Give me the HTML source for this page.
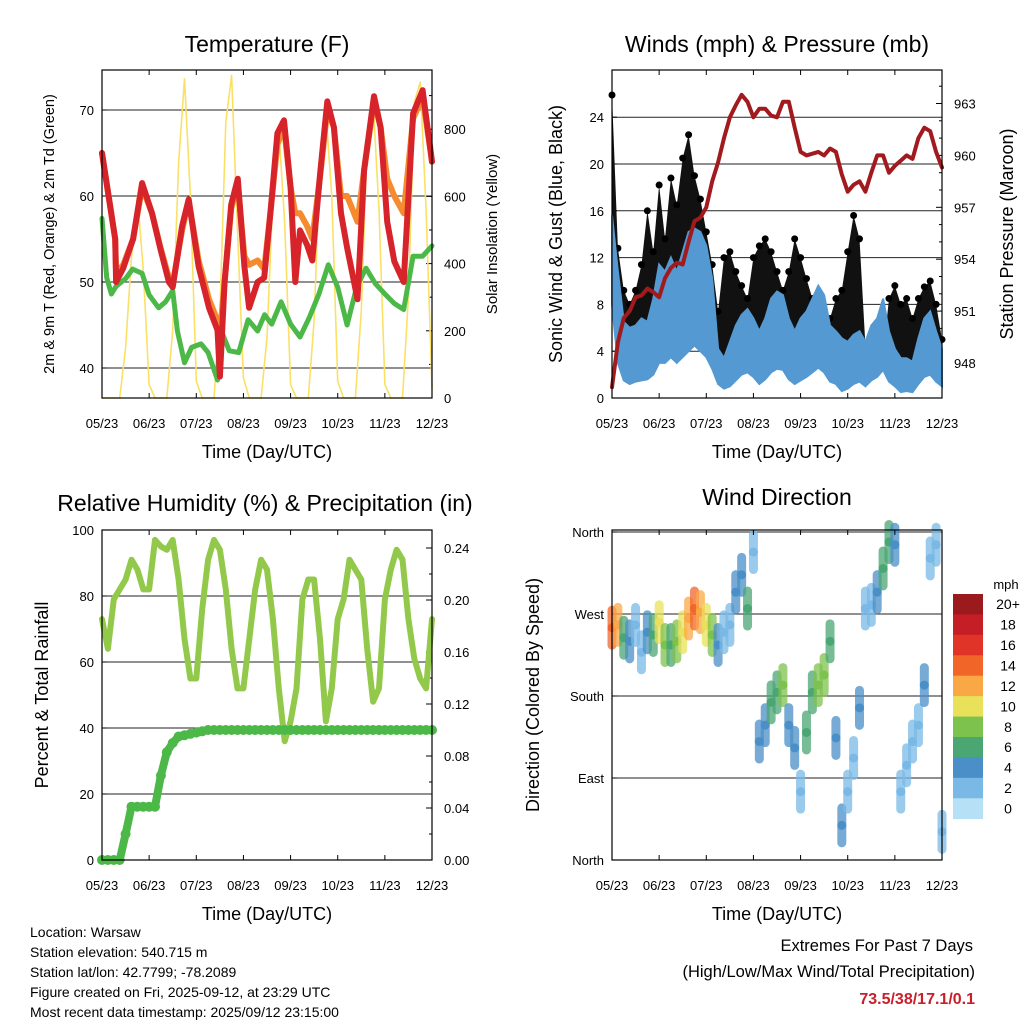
<!DOCTYPE html>
<html><head><meta charset="utf-8"><style>
html,body{margin:0;padding:0;background:#fff;}
svg{display:block;font-family:"Liberation Sans",sans-serif;}
</style></head><body>
<svg id="c" width="1024" height="1024" viewBox="0 0 1024 1024"></svg>
<script>
// ---- data ----
const tickLabels = ["05/23","06/23","07/23","08/23","09/23","10/23","11/23","12/23"];
const tempTimes = [0,0.28,0.3,0.45,0.66,0.85,1.06,1.24,1.42,1.5,1.7,1.84,2.05,2.27,2.45,2.5,2.6,2.74,2.88,3.02,3.12,3.3,3.44,3.58,3.72,3.86,4.0,4.1,4.2,4.35,4.46,4.63,4.78,4.92,5.07,5.2,5.42,5.56,5.77,5.91,6.05,6.2,6.4,6.6,6.8,7.0];
const temp2m = [65,55,50,51.6,55,61.5,58,53.8,50,49.4,56.5,59.6,51.8,47,44.4,39,50,59,62,51.8,47,50,50.5,58.5,67.3,68.8,61,50,56,54.3,52.5,62.8,71,68,58,54,48,63,71.6,68,57,52.4,50,69.6,72.3,64];
const temp9m = [65,55,51,52,55,61,58,54,50.5,49.8,56,59.5,52.5,48,45.5,44,50,58.5,61.5,53,52,52.5,51.5,58.5,66,68,61,58,58,56.5,55,62.5,70,68,60,60,57,63,71,68,62,60,58,69,71.5,64];
const dewTimes = [0,0.1,0.2,0.3,0.5,0.65,0.85,1.0,1.2,1.35,1.5,1.6,1.75,1.9,2.1,2.25,2.45,2.5,2.7,2.9,3.1,3.3,3.45,3.6,3.8,4.0,4.2,4.4,4.6,4.8,5.0,5.2,5.4,5.6,5.8,6.0,6.2,6.4,6.6,6.8,7.0];
const dewpt = [57.4,50.5,48.6,49.5,50.4,51.5,51,48.5,47,47.7,49,44.3,40.6,42.4,42.8,41.8,38.6,44.7,42,41.8,45.6,44.3,46.2,45.1,47.7,45.1,43.6,45.9,48.6,52,49.4,45,49.4,51.6,49.8,48.6,47.5,46.8,53,53,54.2];
const solar = [0,0,0,0,150,420,600,380,40,0,0,0,200,700,950,600,50,0,0,0,250,820,960,500,60,0,0,0,180,600,800,520,40,0,0,0,230,700,850,600,50,0,0,0,260,760,880,560,40,0,0,0,300,880,940,560,30];
const windHigh = [15.6,10.8,6.5,6,6.2,6.8,6.5,8.5,11.4,10.8,12,10.8,12.5,14.2,14.5,14.2,13,10.2,4.2,3.4,4.8,6.2,7.1,7.6,6.8,5.7,6.8,8.5,9.1,8.8,6.8,5.7,6.8,7.4,8.5,9.6,8.8,6.2,5.7,5.1,4.8,5.4,5.7,4.8,6.2,6.8,8.5,5.7,4.2,3.4,3.4,3.1,5.1,6.8,7.4,5.7,4.2];
const windLow = [8,3,1.5,1.2,1.4,1.5,1.6,2,3,3,3.5,3,3.5,4,4.5,4,3.5,2.5,1.2,0.8,1,1.5,2,2.2,1.8,1.2,1.6,2.2,2.5,2.4,1.6,1.2,1.5,1.8,2.2,2.6,2.2,1.4,1.2,0.6,0.8,1.2,1.4,1,1.5,1.8,2.4,1.4,1,0.5,0.6,0.5,1.2,1.8,2,1.4,1];
const gust = [25.9,12.8,9.2,8,9.2,11.4,16,12.5,18.2,13.6,18.8,16.5,20.5,22.5,19,17,14.2,11.4,7.4,12,12.5,10.8,9.6,8.5,12,13,13.6,12.5,10.8,9.2,10.8,13.6,12,10.2,8.5,6.8,6.2,6.8,8.5,9.2,12.5,15.6,13.6,4.5,3.7,4,3.7,8.5,9.6,8,8.5,6.8,8.5,9.5,10,8,5];
const pressure = [946.6,949.2,950.6,951,951.8,951.9,952.3,952.1,951.8,952.9,953.5,953.8,953.7,955,956.2,956.4,957,958.5,959.6,961,962.2,962.9,963.5,963.1,962.2,962.7,962.7,962.3,962.2,963.1,963.1,961.6,960.2,960,960.1,960.2,960,960.4,960.2,958.9,957.9,958.3,958.5,957.9,959,960,960,959,959.4,959.7,960,959.8,961,961.6,961.4,960.2,959.3];
const rh = [73,64,79,82,85,91,88,82,82,97,95,94,97,85,67,55,55,76,91,97,94,82,64,52,52,67,82,91,88,73,52,36,42,52,79,85,85,67,42,52,73,79,91,88,85,64,48,52,79,88,94,91,73,61,55,52,73];
const rain = [0,0,0,0,0.02,0.041,0.041,0.041,0.041,0.041,0.065,0.083,0.09,0.095,0.096,0.097,0.098,0.099,0.1,0.1,0.1,0.1,0.1,0.1,0.1,0.1,0.1,0.1,0.1,0.1,0.1,0.1,0.1,0.1,0.1,0.1,0.1,0.1,0.1,0.1,0.1,0.1,0.1,0.1,0.1,0.1,0.1,0.1,0.1,0.1,0.1,0.1,0.1,0.1,0.1,0.1,0.1];
const windDir = [255,258,244,240,258,228,250,247,261,236,236,240,250,265,276,272,258,247,236,250,258,294,313,276,338,130,148,173,184,192,148,123,75,140,184,192,203,240,134,38,75,112,167,276,280,294,320,349,346,75,104,130,148,192,331,346,31];
const windSpd = [15,12,6,4,3,3,4,7,10,8,7,8,10,13,14,12,10,9,5,3,3,4,4,6,3,4,5,7,7,8,5,5,3,6,6,8,8,7,4,4,2,3,4,2,2,5,6,7,4,2,2,2,3,4,2,3,3];
const binLabels = ["20+","18","16","14","12","10","8","6","4","2","0"];
const binColors = ["#9b1a1e","#c61e26","#e03428","#f26529","#f9a845","#e8e159","#7dc24c","#4aa673","#4a8fc7","#7ab9e5","#b5e0f5"];

const svg = document.getElementById('c');
const NS = 'http://www.w3.org/2000/svg';
function mk(tag, attrs, parent){const e=document.createElementNS(NS,tag);for(const k in attrs)e.setAttribute(k,attrs[k]);(parent||svg).appendChild(e);return e;}
function txt(s, attrs, parent){const e=mk('text',attrs,parent);e.textContent=s;return e;}
const N = solar.length;
function tOf(i){return i*7/(N-1);}

function panel(name,x0,x1,y0,y1){
  const g=mk('g',{});
  
  
  return {g,x0,x1,y0,y1,xs:t=>x0+(x1-x0)*t/7};
}
function frame(p){
  const r=mk('rect',{x:p.x0,y:p.y0,width:p.x1-p.x0,height:p.y1-p.y0,fill:'none',stroke:'#000','stroke-width':1.2},p.g);
  
  
  for(let i=0;i<tickLabels.length;i++){
    const x=p.xs(i);
    mk('line',{x1:x,x2:x,y1:p.y1,y2:p.y1-5,stroke:'#000'},p.g);
    mk('line',{x1:x,x2:x,y1:p.y0,y2:p.y0+5,stroke:'#000'},p.g);
    const t=txt(tickLabels[i],{x:x,y:p.y1+30,'text-anchor':'middle','font-size':13},p.g);
    
    
  }
  const xt=txt('Time (Day/UTC)',{x:(p.x0+p.x1)/2,y:p.y1+60,'text-anchor':'middle','font-size':18},p.g);
  
  
}
function leftAxis(p,vals,labels,ys,grid){
  vals.forEach((v,i)=>{
    const y=ys(v);
    if(grid) mk('line',{x1:p.x0,x2:p.x1,y1:y,y2:y,stroke:'#222','stroke-width':1},p.g);
    mk('line',{x1:p.x0,x2:p.x0+5,y1:y,y2:y,stroke:'#000'},p.g);
    const t=txt(labels[i],{x:p.x0-8,y:y+5,'text-anchor':'end','font-size':13},p.g);
    
    
  });
}
function rightAxis(p,vals,labels,ys,minor){
  vals.forEach((v,i)=>{
    const y=ys(v);
    mk('line',{x1:p.x1,x2:p.x1-6,y1:y,y2:y,stroke:'#000'},p.g);
    const t=txt(labels[i],{x:p.x1+12,y:y+5,'text-anchor':'start','font-size':13},p.g);
    
    
  });
  (minor||[]).forEach(v=>{const y=ys(v);mk('line',{x1:p.x1,x2:p.x1-3,y1:y,y2:y,stroke:'#000'},p.g);});
}
function title(s,x,y,name){const t=txt(s,{x:x,y:y,'text-anchor':'middle','font-size':23});}
function vtitle(s,x,y,fs,name){const t=txt(s,{x:0,y:0,'text-anchor':'middle','font-size':fs,transform:`translate(${x},${y}) rotate(-90)`});}
function polyline(p,arr,ys,color,w,name,times){
  const pts=arr.map((v,i)=>p.xs(times?times[i]:tOf(i)).toFixed(1)+','+ys(v).toFixed(1)).join(' ');
  const e=mk('polyline',{points:pts,fill:'none',stroke:color,'stroke-width':w,'stroke-linejoin':'round','stroke-linecap':'round'},p.g);
  
  
  return e;
}

// ---- Temperature panel ----
const P1=panel('temperature-chart',102,432,70,398);
const tY=v=>110+(70-v)*8.6;
const sY=v=>398-v*0.336;
leftAxis(P1,[40,50,60,70],["40","50","60","70"],tY,true);
rightAxis(P1,[0,200,400,600,800],["0","200","400","600","800"],sY,[100,300,500,700,900]);
polyline(P1,solar,sY,'#fbe066',1.6,'solar-line');
polyline(P1,dewpt,tY,'#4cb848',5,'dewpoint-line',dewTimes);
polyline(P1,temp9m,tY,'#f58a2e',6,'temp-9m-line',tempTimes);
polyline(P1,temp2m,tY,'#d7232a',6,'temp-2m-line',tempTimes);
frame(P1);
title('Temperature (F)',267,52,'temperature-title');
vtitle('2m & 9m T (Red, Orange) & 2m Td (Green)',54,234,14.5,'temperature-y-title');
vtitle('Solar Insolation (Yellow)',497,234,15,'solar-y-title');

// ---- Winds panel ----
const P2=panel('winds-chart',612,942,70,398);
const wY=v=>398-v*11.7;
const pY=v=>363-(v-948)*17.3;
leftAxis(P2,[0,4,8,12,16,20,24],["0","4","8","12","16","20","24"],wY,true);
rightAxis(P2,[948,951,954,957,960,963],["948","951","954","957","960","963"],pY,[949,950,952,953,955,956,958,959,961,962,964]);
{
  const up=gust.map((v,i)=>P2.xs(tOf(i)).toFixed(1)+','+wY(v).toFixed(1));
  const dn=windHigh.map((v,i)=>P2.xs(tOf(i)).toFixed(1)+','+wY(v).toFixed(1)).reverse();
  const e=mk('polygon',{points:up.concat(dn).join(' '),fill:'#111'},P2.g);
  
  
  gust.forEach((v,i)=>{const c=mk('circle',{cx:P2.xs(tOf(i)),cy:wY(v),r:3.5,fill:'#000'},P2.g);
    
    });
  const up2=windHigh.map((v,i)=>P2.xs(tOf(i)).toFixed(1)+','+wY(v).toFixed(1));
  const dn2=windLow.map((v,i)=>P2.xs(tOf(i)).toFixed(1)+','+wY(v).toFixed(1)).reverse();
  const b=mk('polygon',{points:up2.concat(dn2).join(' '),fill:'#5499d2',stroke:'#5499d2','stroke-width':2},P2.g);
  
  
}
polyline(P2,pressure,pY,'#a01a1e',4,'pressure-line');
frame(P2);
title('Winds (mph) & Pressure (mb)',777,52,'winds-title');
vtitle('Sonic Wind & Gust (Blue, Black)',562,234,18,'wind-y-title');
vtitle('Station Pressure (Maroon)',1013,234,18,'pressure-y-title');

// ---- RH panel ----
const P3=panel('humidity-chart',102,432,530,860);
const hY=v=>860-v*3.3;
const rY=v=>860-v*1300;
leftAxis(P3,[0,20,40,60,80,100],["0","20","40","60","80","100"],hY,true);
rightAxis(P3,[0,0.04,0.08,0.12,0.16,0.20,0.24],["0.00","0.04","0.08","0.12","0.16","0.20","0.24"],rY,[0.02,0.06,0.10,0.14,0.18,0.22]);
polyline(P3,rh,hY,'#93c94b',6,'humidity-line');
polyline(P3,rain,rY,'#4cb848',8,'rainfall-line');
rain.forEach((v,i)=>{const c=mk('circle',{cx:P3.xs(tOf(i)),cy:rY(v),r:5,fill:'#4cb848'},P3.g);
  
  });
frame(P3);
title('Relative Humidity (%) & Precipitation (in)',265,511,'humidity-title');
vtitle('Percent & Total Rainfall',48,695,18,'humidity-y-title');

// ---- Wind direction panel ----
const P4=panel('wind-direction-chart',612,942,530,860);
const dY=v=>860-v*(328/360);
leftAxis(P4,[0,90,180,270,360],["North","East","South","West","North"],dY,true);
function binColor(s){let k=Math.min(10,Math.floor(s/2));return binColors[10-k];}
windDir.forEach((d,i)=>{
  const x=P4.xs(tOf(i)), y=dY(d), col=binColor(windSpd[i]);
  const r=mk('rect',{x:x-4.5,y:y-22,width:9,height:44,rx:4.5,fill:col,opacity:0.75},P4.g);
  
  
  const c=mk('circle',{cx:x,cy:y,r:4.5,fill:col},P4.g);
  
  
});
frame(P4);
title('Wind Direction',777,505,'wind-direction-title');
vtitle('Direction (Colored By Speed)',539,695,18,'direction-y-title');

// colorbar
{
  const g=mk('g',{});
  
  
  txt('mph',{x:1006,y:589,'text-anchor':'middle','font-size':13},g);
  const bh=(818.7-594)/binLabels.length;
  binLabels.forEach((l,i)=>{
    const r=mk('rect',{x:953,y:594+i*bh,width:30,height:bh+0.3,fill:binColors[i]},g);
    
    
    const tt=txt(l,{x:1008,y:594+i*bh+bh/2+5,'text-anchor':'middle','font-size':14},g);
    
    
  });
}
// footer
{
  const lines=["Location: Warsaw","Station elevation: 540.715 m","Station lat/lon: 42.7799; -78.2089","Figure created on Fri, 2025-09-12, at 23:29 UTC","Most recent data timestamp: 2025/09/12 23:15:00"];
  lines.forEach((l,i)=>{const t=txt(l,{x:30,y:937+i*20,'font-size':14});
    
    });
  const a=txt('Extremes For Past 7 Days',{x:973,y:951,'text-anchor':'end','font-size':16.5});
  
  
  const b=txt('(High/Low/Max Wind/Total Precipitation)',{x:975,y:977,'text-anchor':'end','font-size':16.5});
  
  
  const c=txt('73.5/38/17.1/0.1',{x:975,y:1004,'text-anchor':'end','font-size':16,'font-weight':'bold',fill:'#c8202a'});
  
  
}
</script>
</body></html>
